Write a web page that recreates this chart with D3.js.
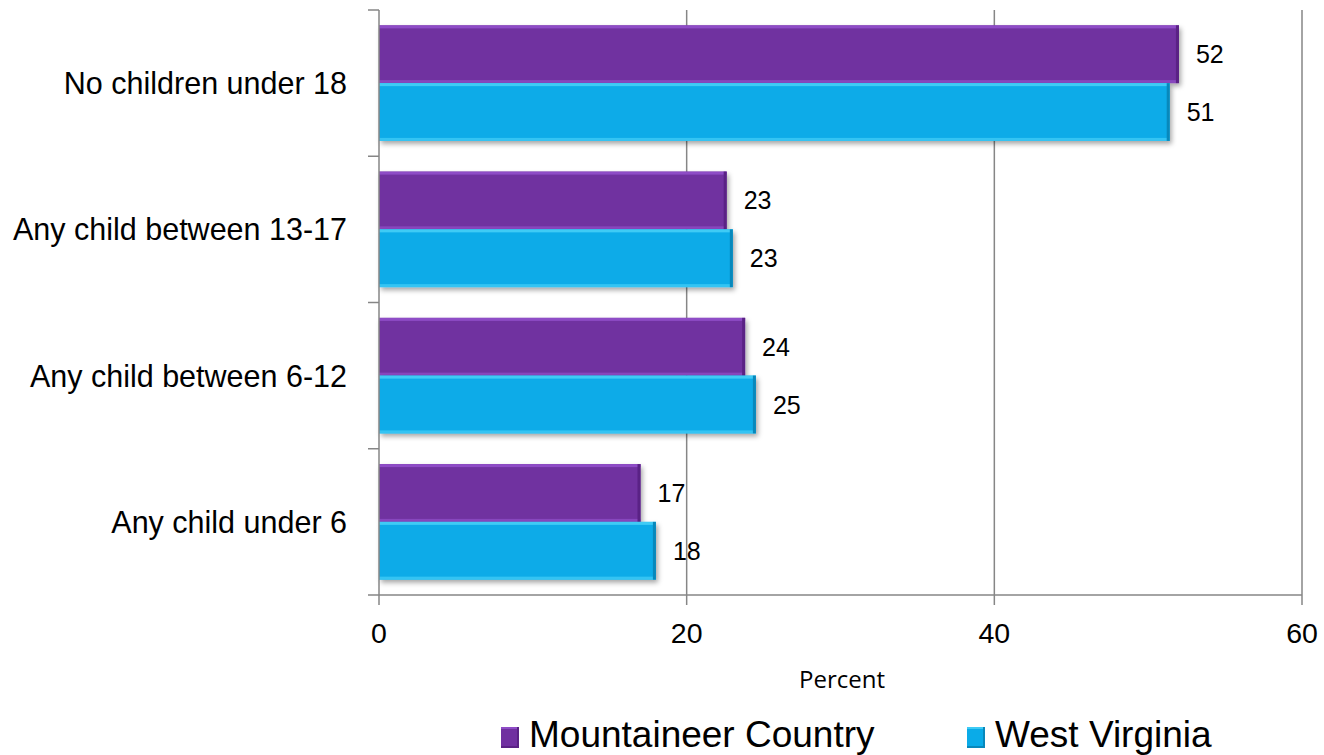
<!DOCTYPE html>
<html><head><meta charset="utf-8">
<script src="https://cdn.jsdelivr.net/npm/d3@7"></script>
<style>body{margin:0;background:#fff}svg{display:block}</style>
</head><body>
<svg id="c" width="1324" height="755"></svg>
<script>
const categories = ["No children under 18","Any child between 13-17","Any child between 6-12","Any child under 6"];
const seriesNames = ["Mountaineer Country","West Virginia"];
const mountaineer = [52.0, 22.6, 23.8, 17.0];
const westVirginia = [51.4, 23.0, 24.5, 18.0];
const xTicks = [0,20,40,60];
const colors = ["#7030A0","#0AABE8"];
const hiColors = ["#8E4CC6","#3FCBF5"];
const loColors = ["#5A2285","#0888BB"];

const svg = d3.select("#c");
const L=379, R=1302, T=10, B=595;
const x = d3.scaleLinear().domain([0,60]).range([L,R]);
const y = d3.scaleBand().domain(categories).range([T,B]).paddingInner(0.21).paddingOuter(0.105);
const yi = d3.scaleBand().domain(seriesNames).range([0,y.bandwidth()]);

const defs = svg.append("defs");
const f = defs.append("filter").attr("id","sh").attr("x","-5%").attr("y","-20%").attr("width","115%").attr("height","160%");
f.append("feDropShadow").attr("dx",2).attr("dy",3).attr("stdDeviation",2.5).attr("flood-color","#000").attr("flood-opacity",0.35);

// gridlines
svg.append("g").selectAll("line").data(xTicks.slice(1)).join("line")
  .attr("x1",d=>x(d)).attr("x2",d=>x(d)).attr("y1",T).attr("y2",B)
  .attr("stroke","#868686").attr("stroke-width",1.5);

const FONT = "Liberation Sans, Arial, sans-serif";
const data = categories.map((c,i)=>({c, vals:[mountaineer[i], westVirginia[i]]}));
const g = svg.append("g");
data.forEach(d=>{
  d.vals.forEach((v,si)=>{
    const by = y(d.c)+yi(seriesNames[si]);
    const bh = yi.bandwidth();
    const bw = x(v)-x(0);
    const bg = g.append("g");
    bg.append("rect").attr("x",x(0)).attr("y",by).attr("width",bw).attr("height",bh)
      .attr("fill",colors[si]).attr("filter","url(#sh)");
    bg.append("rect").attr("x",x(0)).attr("y",by).attr("width",bw).attr("height",3).attr("fill",hiColors[si]);
    bg.append("rect").attr("x",x(0)).attr("y",by+bh-3).attr("width",bw).attr("height",3).attr("fill",hiColors[si]).attr("opacity",0.8);
    bg.append("rect").attr("x",x(v)-3).attr("y",by).attr("width",3).attr("height",bh).attr("fill",loColors[si]);
    svg.append("text").attr("x",x(v)+17).attr("y",by+bh/2).attr("dy","0.36em")
      .attr("font-family",FONT).attr("font-size",25).attr("fill","#000")
      .text(d3.format(".0f")(v));
  });
});

// axes
const ax = svg.append("g").attr("stroke","#868686").attr("stroke-width",1.5);
ax.append("line").attr("x1",L).attr("x2",L).attr("y1",T).attr("y2",B);
ax.append("line").attr("x1",L-11).attr("x2",R).attr("y1",B).attr("y2",B);
const bounds = categories.map(c=>y(c)-y.step()*y.paddingInner()/2);
bounds[0]=T;
ax.selectAll(".yt").data(bounds).join("line").attr("x1",L-11).attr("x2",L).attr("y1",d=>d).attr("y2",d=>d);
ax.selectAll(".xt").data(xTicks).join("line").attr("x1",d=>x(d)).attr("x2",d=>x(d)).attr("y1",B).attr("y2",B+10);

svg.append("g").selectAll("text").data(xTicks).join("text")
  .attr("x",d=>x(d)).attr("y",643).attr("text-anchor","middle")
  .attr("font-family",FONT).attr("font-size",28.5).text(d=>d);

svg.append("g").selectAll("text").data(categories).join("text")
  .attr("x",347).attr("y",d=>y(d)+y.bandwidth()/2).attr("dy","0.36em").attr("text-anchor","end")
  .attr("font-family",FONT).attr("font-size",30.5)
  .text(d=>d);

svg.append("text").attr("x",842).attr("y",688).attr("text-anchor","middle")
  .attr("font-family","Open Sans, sans-serif").attr("font-size",24).text("Percent");

// legend
const legX = [501, 967];
seriesNames.forEach((n,i)=>{
  const lg = svg.append("g");
  lg.append("rect").attr("x",legX[i]).attr("y",727).attr("width",18).attr("height",21).attr("fill",colors[i]);
  lg.append("rect").attr("x",legX[i]).attr("y",727).attr("width",18).attr("height",2).attr("fill",hiColors[i]);
  lg.append("rect").attr("x",legX[i]+16).attr("y",727).attr("width",2).attr("height",21).attr("fill",loColors[i]);
  lg.append("rect").attr("x",legX[i]).attr("y",746).attr("width",18).attr("height",2).attr("fill",loColors[i]);
  lg.append("text").attr("x",legX[i]+28).attr("y",747)
    .attr("font-family",FONT).attr("font-size",37).text(n);
});
</script>
</body></html>
